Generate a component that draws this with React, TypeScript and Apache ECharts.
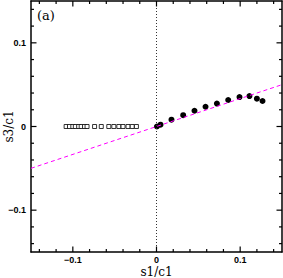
import React, { useEffect, useRef } from "react";
import * as echarts from "echarts";

const squareX = [-0.108, -0.104, -0.1, -0.097, -0.093, -0.09, -0.086, -0.083, -0.074, -0.066, -0.057, -0.051, -0.045, -0.04, -0.034, -0.029, -0.024];
const squareY = [0, 0, 0, 0, 0, 0, 0, 0, 0, 0, 0, 0, 0, 0, 0, 0, 0];
const circleX = [0.0005, 0.0048, 0.0179, 0.0319, 0.0454, 0.0586, 0.0722, 0.0857, 0.0992, 0.1111, 0.12, 0.1267];
const circleY = [0.0, 0.0022, 0.0081, 0.0135, 0.0188, 0.0236, 0.0274, 0.0317, 0.0352, 0.0364, 0.0332, 0.0305];
const fitLineX = [-0.15, 0.15];
const fitLineY = [-0.05, 0.05];
const zeroLineX = [0, 0];
const zeroLineY = [-0.15, 0.15];
const majorTicks = [-0.1, 0, 0.1];
const minorTicks = [-0.14, -0.12, -0.08, -0.06, -0.04, -0.02, 0.02, 0.04, 0.06, 0.08, 0.12, 0.14];
const axisMin = -0.15;
const axisMax = 0.15;

const fmt = (v: number) => {
  const r = Math.round(v * 10) / 10;
  if (Math.abs(v - r) > 1e-6) return "";
  if (Math.abs(r) < 1e-9) return "0";
  return r < 0 ? "\u2212" + Math.abs(r).toString() : r.toString();
};

export default function App() {
  const ref = useRef<HTMLDivElement>(null);
  useEffect(() => {
    if (!ref.current) return;
    const chart = echarts.init(ref.current, null, { renderer: "svg" });
    const labelStyle = {
      color: "#000",
      fontFamily: "Liberation Sans",
      fontWeight: "bold" as const,
      fontSize: 9,
    };
    const nameStyle = {
      color: "#000",
      fontFamily: "DejaVu Serif",
      fontSize: 12,
    };
    const baseAxis = {
      type: "value" as const,
      min: axisMin,
      max: axisMax,
      interval: 0.05,
      splitLine: { show: false },
      axisTick: { show: false },
      axisLine: { show: true, onZero: false, lineStyle: { color: "#000", width: 1.5 } },
    };
    const tickSeries: any[] = [];
    const addTicks = (vals: number[], len: number) => {
      const w = 1.2;
      const mk = (data: number[][], size: number[], offset: number[]) => ({
        type: "scatter",
        data,
        symbol: "rect",
        symbolSize: size,
        symbolOffset: offset,
        clip: false,
        silent: true,
        z: 5,
        itemStyle: { color: "#000", opacity: 1 },
      });
      tickSeries.push(mk(vals.map((v) => [v, axisMin]), [w, len], [0, -len / 2]));
      tickSeries.push(mk(vals.map((v) => [v, axisMax]), [w, len], [0, len / 2]));
      tickSeries.push(mk(vals.map((v) => [axisMin, v]), [len, w], [len / 2, 0]));
      tickSeries.push(mk(vals.map((v) => [axisMax, v]), [len, w], [-len / 2, 0]));
    };
    addTicks(majorTicks, 5.5);
    addTicks(minorTicks, 3);
    chart.setOption({
      animation: false,
      backgroundColor: "#fff",
      grid: { left: 31, right: 1, top: 1, bottom: 26, outerBoundsMode: "none", containLabel: false },
      xAxis: [
        {
          ...baseAxis,
          position: "bottom",
          name: "s1/c1",
          nameLocation: "middle",
          nameGap: 14,
          nameMoveOverlap: false,
          nameTextStyle: nameStyle,
          axisLabel: { ...labelStyle, margin: 3, formatter: fmt, showMinLabel: true, showMaxLabel: true },
        },
        { ...baseAxis, position: "top", axisLabel: { show: false } },
      ],
      yAxis: [
        {
          ...baseAxis,
          position: "left",
          name: "s3/c1",
          nameLocation: "middle",
          nameGap: 16,
          nameMoveOverlap: false,
          nameTextStyle: nameStyle,
          axisLabel: { ...labelStyle, margin: 5, formatter: fmt },
        },
        { ...baseAxis, position: "right", axisLabel: { show: false } },
      ],
      graphic: [
        {
          type: "text",
          left: 37,
          top: 9,
          style: { text: "(a)", fontFamily: "DejaVu Serif", fontSize: 13, fill: "#000" },
        },
      ],
      series: [
        {
          type: "line",
          data: zeroLineX.map((x, i) => [x, zeroLineY[i]]),
          symbol: "none",
          lineStyle: { color: "#333", width: 1, type: [1, 2] },
          silent: true,
        },
        {
          type: "line",
          data: fitLineX.map((x, i) => [x, fitLineY[i]]),
          symbol: "none",
          lineStyle: { color: "#ff00ff", width: 1, type: [4, 3] },
          silent: true,
        },
        {
          type: "scatter",
          data: squareX.map((x, i) => [x, squareY[i]]),
          symbol: "rect",
          symbolSize: 4,
          itemStyle: { color: "#fff", borderColor: "#000", borderWidth: 0.8, opacity: 1 },
        },
        {
          type: "scatter",
          data: circleX.map((x, i) => [x, circleY[i]]),
          symbol: "circle",
          symbolSize: 6,
          itemStyle: { color: "#000", opacity: 1 },
        },
        ...tickSeries,
      ],
    });
    return () => chart.dispose();
  }, []);
  return <div ref={ref} style={{ width: 283, height: 278, position: "absolute", left: 0, top: 0 }} />;
}
